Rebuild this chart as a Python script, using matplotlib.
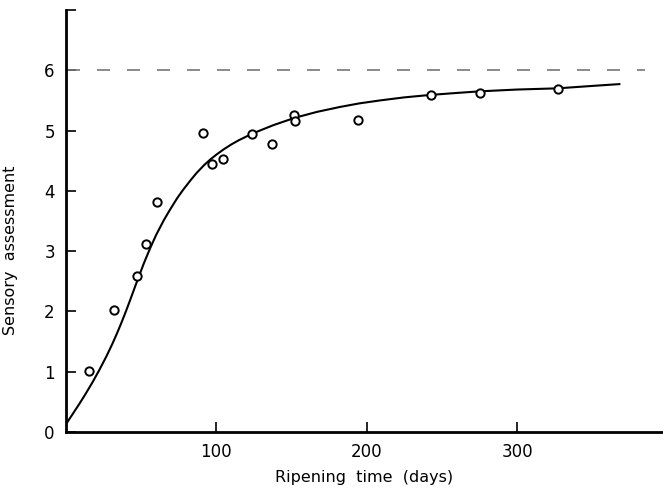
import numpy as np
import matplotlib
matplotlib.use("Agg")
import matplotlib.pyplot as plt

plt.rcParams['font.family'] = ['DejaVu Sans']

days = [15.3, 31.7, 47.0, 53.2, 60.7, 91.2, 97.0, 104.5, 123.6, 137.1,
        151.7, 152.4, 194.0, 242.5, 275.1, 327.1]
score = [1.01, 2.03, 2.58, 3.12, 3.82, 4.96, 4.45, 4.52, 4.95, 4.78,
         5.25, 5.15, 5.18, 5.59, 5.63, 5.69]

# fitted curve, traced point by point
curve_days = [0, 4, 9, 13, 18, 22, 27, 31, 34, 37, 40, 43, 48, 52, 56, 60,
              65, 69, 74, 78, 83, 87, 92, 96, 100, 105, 110, 115, 124, 138,
              152, 167, 182, 195, 209, 225, 242, 258, 275, 300, 327, 350, 368]
curve_score = [0.13, 0.28, 0.47, 0.63, 0.84, 1.02, 1.26, 1.47, 1.64, 1.82,
               2.01, 2.21, 2.55, 2.81, 3.05, 3.27, 3.51, 3.68, 3.88, 4.02,
               4.18, 4.30, 4.43, 4.52, 4.60, 4.69, 4.77, 4.84, 4.95, 5.09,
               5.21, 5.31, 5.39, 5.45, 5.50, 5.55, 5.59, 5.62, 5.65, 5.68,
               5.70, 5.74, 5.77]

# asymptote
limit = 6
limit_span = [1, 385]

xticks = [100, 200, 300]
yticks = [0, 1, 2, 3, 4, 5, 6, 7]
ytick_labels = ['0', '1', '2', '3', '4', '5', '6', '']

fig = plt.figure(figsize=(6.63, 4.88), dpi=100)
ax = fig.add_axes([0.0995, 0.1148, 0.9005, 0.8648])

ax.plot(limit_span, [limit, limit], color='#777777', linewidth=1.2,
        dashes=(7.8, 10.2))
ax.plot(curve_days, curve_score, color='black', linewidth=1.5)
ax.plot(days, score, 'o', markerfacecolor='white', markeredgecolor='black',
        markersize=6, markeredgewidth=1.4)

ax.set_xlim(0, 397)
ax.set_ylim(0, 7)
ax.set_xticks(xticks)
ax.set_yticks(yticks)
ax.set_yticklabels(ytick_labels)
ax.tick_params(direction='in', length=7, width=1.2, labelsize=12, pad=8,
               colors='black')

for side in ['top', 'right']:
    ax.spines[side].set_visible(False)
for side in ['left', 'bottom']:
    ax.spines[side].set_linewidth(2)

ax.set_xlabel('Ripening  time  (days)', fontsize=11.5)
ax.xaxis.set_label_coords(0.5, -0.09)
ax.set_ylabel('Sensory  assessment', fontsize=11.5)
ax.yaxis.set_label_coords(-0.08, 0.43)

fig.savefig('out.png', dpi=100)
